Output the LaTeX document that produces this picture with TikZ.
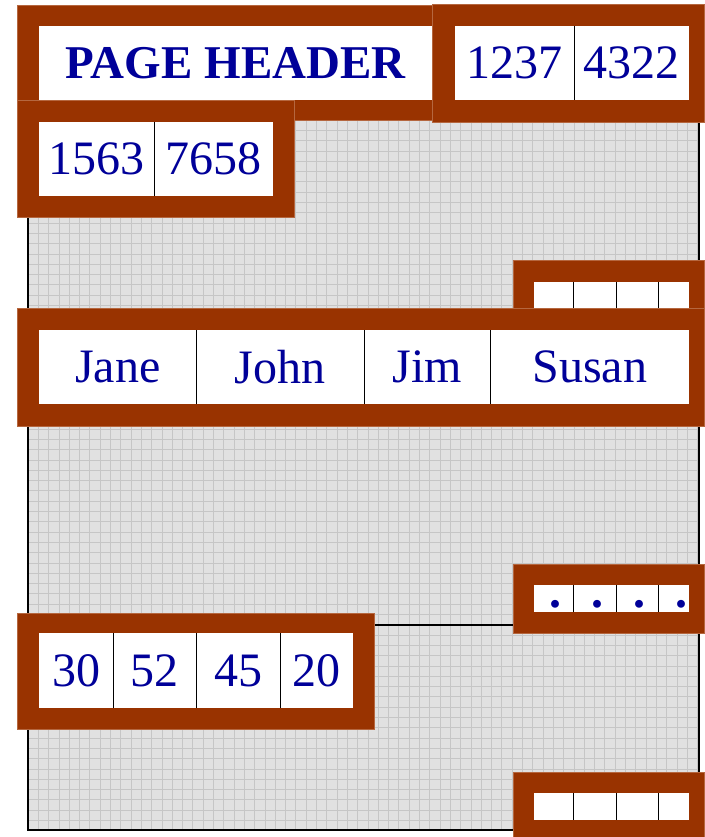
\documentclass[tikz,border=0pt]{standalone}
\usepackage{fontspec}
\setmainfont{Liberation Serif}
\usepackage{tikz}
\usetikzlibrary{positioning}
\definecolor{FrameBrown}{HTML}{993300}
\definecolor{FrameEdge}{HTML}{B5673F}
\definecolor{SlotBlue}{HTML}{000099}
\definecolor{PageGray}{HTML}{E1E1E1}
\definecolor{GridGray}{HTML}{C6C6C6}
\tikzset{
    % Frame and cell styles
    slotframe/.style={
        fill=FrameBrown,
        draw=FrameEdge,
        line width=0.6pt
    },
    cellbox/.style={
        rectangle,
        fill=white,
        draw=none,
        inner sep=0pt,
        anchor=north west,
        text=SlotBlue,
        font=\fontsize{48}{50}\selectfont
    },
    headerbox/.style={
        cellbox,
        font=\fontsize{47}{50}\selectfont\bfseries
    },
    dotchar/.style={
        inner sep=0pt,
        anchor=base,
        text=SlotBlue,
        font=\fontsize{48}{50}\selectfont\bfseries
    },
    % Line styles
    divider/.style={
        draw=black,
        line width=1.5pt
    },
    pageline/.style={
        draw=black,
        line width=2.2pt
    },
    gridline/.style={
        draw=GridGray,
        line width=0.7pt
    }
}

\begin{document}
\begin{tikzpicture}[x=1pt, y=-1pt]
    \useasboundingbox (0,0) rectangle (704,837);

    % Page background with grid
    \fill[PageGray] (28,110) rectangle (699,830);
    \foreach \i in {0,...,65}
        \draw[gridline] ({28+\i*10.3},110) -- ({28+\i*10.3},830);
    \foreach \j in {0,...,69}
        \draw[gridline] (28,{120+\j*10.3}) -- (699,{120+\j*10.3});
    \draw[pageline] (28,110) -- (28,830) -- (513,830);
    \draw[pageline] (699,110) -- (699,837);
    \draw[pageline] (28,625) -- (513,625);

    % Header frames
    \filldraw[slotframe] (17,5) rectangle (455,120);
    \filldraw[slotframe] (17,100) rectangle (294,217);
    \filldraw[slotframe] (432,4) rectangle (704,122);
    \node[headerbox, minimum width=393, minimum height=74] (header) at (39,26) {PAGE HEADER};
    \node[cellbox, minimum width=119, minimum height=74] (s1237) at (455,26) {1237};
    \node[cellbox, minimum width=115, minimum height=74] (s4322) at (574,26) {4322};
    \node[cellbox, minimum width=115, minimum height=74] (s1563) at (39,122) {1563};
    \node[cellbox, minimum width=119, minimum height=74] (s7658) at (154,122) {7658};
    \draw[divider] (s1237.north east) -- (s1237.south east);
    \draw[divider] (s1563.north east) -- (s1563.south east);

    % Empty slot array (top)
    \filldraw[slotframe] (513,260) rectangle (704,330);
    \node[cellbox, minimum width=39, minimum height=26] (ta) at (534,282) {};
    \node[cellbox, minimum width=43, minimum height=26] (tb) at (573,282) {};
    \node[cellbox, minimum width=42, minimum height=26] (tc) at (616,282) {};
    \node[cellbox, minimum width=31, minimum height=26] (td) at (658,282) {};
    \foreach \c in {ta,tb,tc}
        \draw[divider] (\c.north east) -- (\c.south east);

    % Names record
    \filldraw[slotframe] (17,308) rectangle (704,426);
    \node[cellbox, minimum width=157, minimum height=74] (jane) at (39,330) {Jane};
    \node[cellbox, minimum width=168, minimum height=74] (john) at (196,330) {John};
    \node[cellbox, minimum width=126, minimum height=74] (jim) at (364,330) {Jim};
    \node[cellbox, minimum width=199, minimum height=74] (susan) at (490,330) {Susan};
    \foreach \c in {jane,john,jim}
        \draw[divider] (\c.north east) -- (\c.south east);

    % Dotted slot array
    \filldraw[slotframe] (513,564) rectangle (704,633);
    \node[cellbox, minimum width=39, minimum height=27] (ma) at (534,585) {};
    \node[cellbox, minimum width=43, minimum height=27] (mb) at (573,585) {};
    \node[cellbox, minimum width=42, minimum height=27] (mc) at (616,585) {};
    \node[cellbox, minimum width=31, minimum height=27] (md) at (658,585) {};
    \foreach \c in {ma,mb,mc}
        \draw[divider] (\c.north east) -- (\c.south east);
    \node[dotchar] (dota) at (555,607) {.};
    \node[dotchar] (dotb) at (597,607) {.};
    \node[dotchar] (dotc) at (639,607) {.};
    \node[dotchar] (dotd) at (681,607) {.};

    % Numbers record
    \filldraw[slotframe] (17,613) rectangle (374,729);
    \node[cellbox, minimum width=74, minimum height=75] (n30) at (39,633) {30};
    \node[cellbox, minimum width=83, minimum height=75] (n52) at (113,633) {52};
    \node[cellbox, minimum width=84, minimum height=75] (n45) at (196,633) {45};
    \node[cellbox, minimum width=73, minimum height=75] (n20) at (280,633) {20};
    \foreach \c in {n30,n52,n45}
        \draw[divider] (\c.north east) -- (\c.south east);

    % Empty slot array (bottom)
    \filldraw[slotframe] (513,772) rectangle (704,837);
    \node[cellbox, minimum width=39, minimum height=27] (ba) at (534,793) {};
    \node[cellbox, minimum width=43, minimum height=27] (bb) at (573,793) {};
    \node[cellbox, minimum width=42, minimum height=27] (bc) at (616,793) {};
    \node[cellbox, minimum width=31, minimum height=27] (bd) at (658,793) {};
    \foreach \c in {ba,bb,bc}
        \draw[divider] (\c.north east) -- (\c.south east);
\end{tikzpicture}
\end{document}
